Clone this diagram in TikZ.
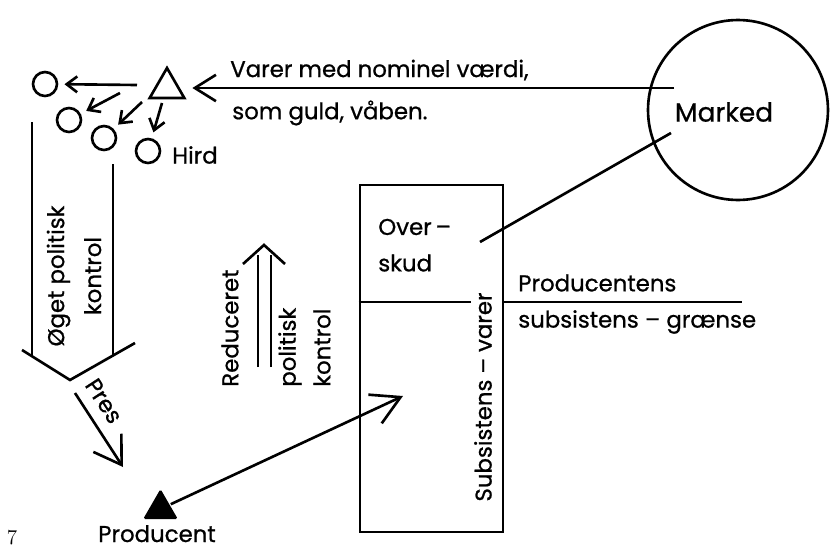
\documentclass[tikz,border=0pt]{standalone}
\usepackage{fontspec}
\newfontfamily\labelfont[FakeBold=0.8]{Poppins}
\usetikzlibrary{arrows.meta,shapes.geometric}
\begin{document}
\begin{tikzpicture}[x=0.02cm,y=-0.02cm,line width=1.5pt,
  font=\labelfont\fontsize{13}{16}\selectfont,
  ring/.style={draw,circle,minimum size=0.48cm,inner sep=0pt},
  tri/.style={regular polygon,regular polygon sides=3,minimum size=0.8cm,inner sep=0pt},
  hd/.style 2 args={-{Straight Barb[length=#1,width=#2]}},
  small/.style={hd={6pt}{9pt},shorten >=3.5pt}]
\useasboundingbox (0,0) rectangle (833,548);
\node[ring] (r1) at (45,84) {};
\node[ring] (r2) at (69,120) {};
\node[ring] (r3) at (104,138) {};
\node[ring] (r4) at (148,151) {};
\node[anchor=west,inner sep=0pt] (hird) at (171,155) {Hird};
\node[tri,draw] (hovding) at (167,88) {};
\coordinate (t1) at (137,85);
\coordinate (t2) at (120,93);
\coordinate (t3) at (142,102);
\coordinate (t4) at (162,103);
\draw[small] (t1) -- (r1);
\draw[small] (t2) -- (r2);
\draw[small] (t3) -- (r3);
\draw[small] (t4) -- (r4);
\node[draw,circle,minimum size=3.6cm] (marked) at (738,110) {};
\node[font=\labelfont\fontsize{15}{18}\selectfont] (markedtxt) at (724,112) {Marked};
\coordinate (vs) at (674,88);
\draw[hd={12pt}{15pt},shorten >=7pt] (vs) -- (hovding.east);
\node[anchor=west,inner sep=0pt] (varer) at (229,70) {Varer med nominel værdi,};
\node[anchor=west,inner sep=0pt] (guld) at (231,113) {som guld, våben.};
\node[draw,minimum width=2.86cm,minimum height=6.94cm,inner sep=0pt] (kasse) at (431.5,358.5) {};
\coordinate (gr) at (742,302);
\draw (kasse.west |- gr) -- ++(112,0);
\draw (kasse.east |- gr) -- (gr);
\coordinate (mk) at (671,133);
\coordinate (ov) at (480,242);
\draw (mk) -- (ov);
\node[anchor=west,inner sep=0pt] (over) at (377,227) {Over\,–};
\node[anchor=west,inner sep=0pt] (skud) at (377,263) {skud};
\node[anchor=west,inner sep=0pt] (prodens) at (517,283) {Producentens};
\node[anchor=west,inner sep=0pt] (graense) at (517,322) {subsistens – grænse};
\node[rotate=90,inner sep=0pt] (subs) at (483,397) {Subsistens – varer};
\node[tri,fill,rounded corners=1pt] (prod) at (160.5,509) {};
\node[anchor=base,inner sep=0pt] (prodtxt) at (157,542) {Producent};
\coordinate (sv) at (403,396);
\draw[hd={16pt}{18pt}] (prod) -- (sv);
\draw (32,122) -- (32,356);
\draw (113,164) -- (113,355);
\draw (22,350) -- (70,380) -- (135,343);
\node[rotate=90,align=center,font=\labelfont\fontsize{13}{21}\selectfont] (oget) at (74,276) {Øget politisk\\kontrol};
\coordinate (p1) at (75,393);
\coordinate (p2) at (123,467);
\draw[hd={15pt}{19pt}] (p1) -- (p2);
\node[rotate=-57,inner sep=0pt] (pres) at (104,401) {Pres};
\draw (258,367) -- (258,255);
\draw (271,367) -- (271,255);
\draw (243,264) -- (264,245) -- (285,264);
\node[rotate=90,anchor=west,inner sep=0pt] (red) at (230,388) {Reduceret};
\node[rotate=90,anchor=west,inner sep=0pt] (pol) at (290,388) {politisk};
\node[rotate=90,anchor=west,inner sep=0pt] (kon) at (322,388) {kontrol};
\node[font=\rmfamily\fontsize{12}{14}\selectfont,inner sep=0pt] (nr) at (12,538) {7};
\end{tikzpicture}
\end{document}
